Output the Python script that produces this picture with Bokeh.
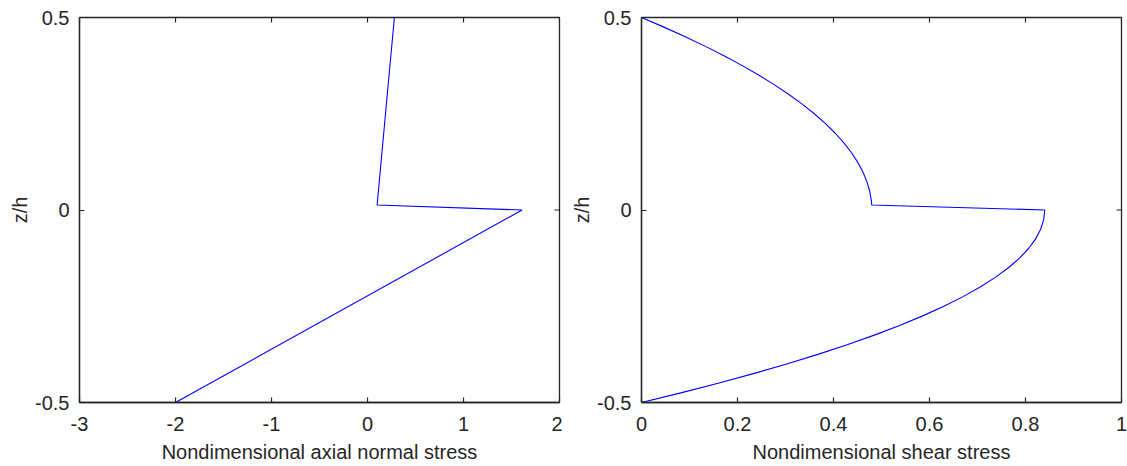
import math
from bokeh.plotting import figure
from bokeh.layouts import row
from bokeh.models import FixedTicker, Range1d
from bokeh.embed import file_html
from bokeh.resources import INLINE

# Left panel: axial normal stress profile
axial_stress = [-2.0, 1.61, 0.10, 0.28]
axial_z = [-0.5, 0.0, 0.013, 0.5]

# Right panel: shear stress profile (bottom layer then top layer)
shear_z = [-0.5, -0.475, -0.45, -0.425, -0.40, -0.375, -0.35, -0.325, -0.30, -0.275,
           -0.25, -0.225, -0.20, -0.175, -0.15, -0.125, -0.10, -0.075, -0.05, -0.025, 0.0,
           0.013, 0.025, 0.05, 0.075, 0.10, 0.125, 0.15, 0.175, 0.20, 0.225, 0.25,
           0.275, 0.30, 0.325, 0.35, 0.375, 0.40, 0.425, 0.45, 0.475, 0.5]
shear_stress = [0.0, 0.0819, 0.1596, 0.2331, 0.3024, 0.3675, 0.4284, 0.4851, 0.5376, 0.5859,
                0.63, 0.6699, 0.7056, 0.7371, 0.7644, 0.7875, 0.8064, 0.8211, 0.8316, 0.8379, 0.84,
                0.4797, 0.4788, 0.4752, 0.4692, 0.4608, 0.45, 0.4368, 0.4212, 0.4032, 0.3828, 0.36,
                0.3348, 0.3072, 0.2772, 0.2448, 0.21, 0.1728, 0.1332, 0.0912, 0.0468, 0.0]

left_xticks = [-3, -2, -1, 0, 1, 2]
right_xticks = [0, 0.2, 0.4, 0.6, 0.8, 1]
yticks = [-0.5, 0, 0.5]

FONT = "Liberation Sans"
TXT = "#262626"


def style_axis(ax, ticks):
    ax.ticker = FixedTicker(ticks=ticks)
    ax.major_label_overrides = {t: str(t) for t in ticks}
    ax.axis_line_color = TXT
    ax.axis_line_width = 1.3
    ax.major_tick_line_color = TXT
    ax.major_tick_line_width = 1.2
    ax.major_tick_in = 5
    ax.major_tick_out = 0
    ax.minor_tick_line_color = None
    ax.major_label_text_font = FONT
    ax.major_label_text_color = TXT
    ax.major_label_text_font_size = "20px"
    ax.axis_label_text_font = FONT
    ax.axis_label_text_color = TXT
    ax.axis_label_text_font_style = "normal"
    ax.axis_label_text_font_size = "20px"


def make(xr, xt, xs, ys, xlabel, left_border, right_border):
    p = figure(frame_width=480, frame_height=385, output_backend="svg",
               toolbar_location=None, x_range=Range1d(*xr), y_range=Range1d(-0.5, 0.5),
               min_border_left=left_border, min_border_right=right_border,
               min_border_top=17, min_border_bottom=64)
    p.xgrid.grid_line_color = None
    p.ygrid.grid_line_color = None
    p.outline_line_color = TXT
    p.outline_line_width = 1.3
    p.background_fill_color = "white"
    p.border_fill_color = "white"
    p.line(xs, ys, line_color="#0000FF", line_width=1.1)
    style_axis(p.xaxis[0], xt)
    style_axis(p.yaxis[0], yticks)
    p.xaxis.axis_label = xlabel
    p.yaxis.axis_label = "z/h"
    p.xaxis.major_label_standoff = 14
    p.xaxis.axis_label_standoff = 7
    p.yaxis.major_label_standoff = 10
    p.yaxis.axis_label_standoff = 1
    # mirrored inward ticks on the top and right edges of the box
    p.ray(x=xt, y=[0.5] * len(xt), length=5, length_units="screen",
          angle=-math.pi / 2, line_color=TXT, line_width=1.2)
    p.ray(x=[xr[1]] * len(yticks), y=yticks, length=5, length_units="screen",
          angle=math.pi, line_color=TXT, line_width=1.2)
    return p


p1 = make((-3, 2), left_xticks, axial_stress, axial_z,
          "Nondimensional axial normal stress", 79, 3)
p2 = make((0, 1), right_xticks, shear_stress, shear_z,
          "Nondimensional shear stress", 79, 6)

layout = row(p1, p2)
open("out.html", "w").write(file_html(layout, INLINE))
